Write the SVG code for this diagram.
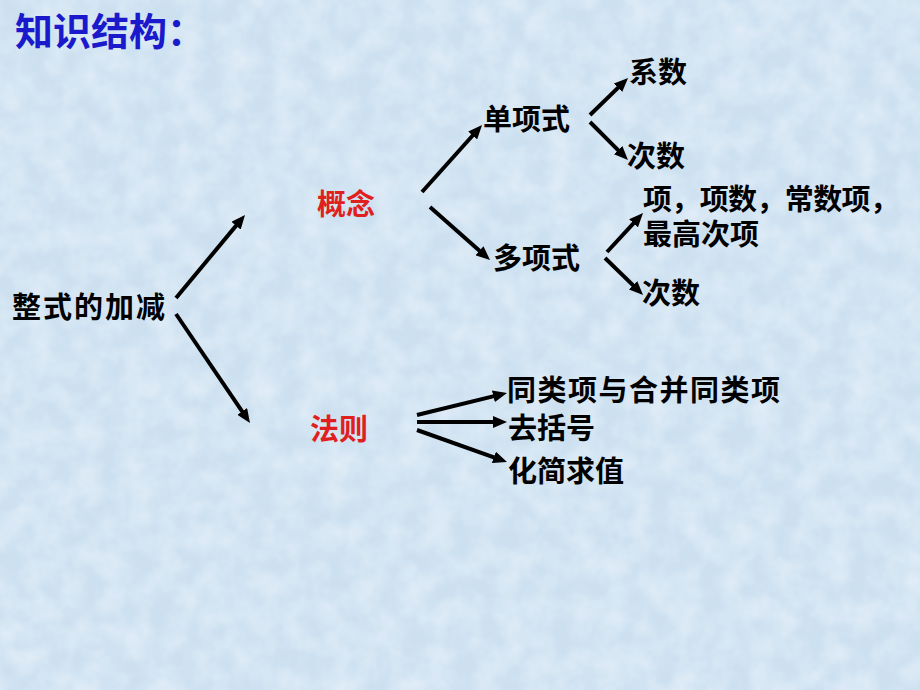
<svg xmlns="http://www.w3.org/2000/svg" width="920" height="690" viewBox="0 0 920 690">
<defs>
<style>
.t{font-family:"Liberation Serif","Noto Sans CJK SC",sans-serif;font-weight:bold;fill:#000;font-size:29px}
.title{font-family:"Noto Sans CJK SC",sans-serif;font-weight:bold;fill:#1a1acc;font-size:38px}
.red{fill:#e01f1f}
.c line{stroke:#000;stroke-width:4;marker-end:url(#ah)}
</style>
<marker id="ah" markerUnits="userSpaceOnUse" markerWidth="16" markerHeight="12" refX="6" refY="6" orient="auto">
<path d="M0,0 L14,6 L0,12 z" fill="#000"/>
</marker>
<filter id="tex" x="0" y="0" width="100%" height="100%">
<feTurbulence type="fractalNoise" baseFrequency="0.04" numOctaves="3" seed="4" result="n"/>
<feColorMatrix type="matrix" values="0 0 0 0 0.88  0 0 0 0 0.93  0 0 0 0 0.98  0 0 0 0.9 -0.25"/>
</filter>
</defs>
<rect width="920" height="690" fill="#cce0f0"/>
<rect width="920" height="690" filter="url(#tex)"/>
<g id="title"><text class="title" x="15" y="45">知识结构：</text></g>
<g class="c" id="connectors">
<line x1="176" y1="298" x2="239.9" y2="221.1"/>
<line x1="176" y1="314" x2="245.5" y2="416.4"/>
<line x1="422" y1="192" x2="476.7" y2="131"/>
<line x1="430" y1="207" x2="484" y2="254.7"/>
<line x1="590" y1="115" x2="622.3" y2="83.6"/>
<line x1="590" y1="122" x2="622.3" y2="154.3"/>
<line x1="607" y1="252" x2="637.6" y2="218.9"/>
<line x1="605" y1="258" x2="637.3" y2="289.4"/>
<line x1="417" y1="415" x2="499.2" y2="394.9"/>
<line x1="417" y1="422" x2="499" y2="422"/>
<line x1="417" y1="430" x2="499.5" y2="459.3"/>
</g>
<g id="root"><text class="t" x="12" y="318" textLength="153">整式的加减</text></g>
<g id="gainian"><text class="t red" x="317" y="215">概念</text></g>
<g id="faze"><text class="t red" x="310" y="440">法则</text></g>
<g id="danxiangshi"><text class="t" x="483" y="130">单项式</text></g>
<g id="duoxiangshi"><text class="t" x="493" y="269">多项式</text></g>
<g id="xishu"><text class="t" x="629" y="83">系数</text></g>
<g id="cishu1"><text class="t" x="627" y="167">次数</text></g>
<g id="xiang"><text class="t" x="643" y="210" textLength="256">项，项数，常数项，</text><text class="t" x="643" y="245">最高次项</text></g>
<g id="cishu2"><text class="t" x="642" y="304">次数</text></g>
<g id="tonglei"><text class="t" x="507" y="401" textLength="273">同类项与合并同类项</text></g>
<g id="qukuohao"><text class="t" x="508" y="439">去括号</text></g>
<g id="huajian"><text class="t" x="508" y="482">化简求值</text></g>
</svg>
